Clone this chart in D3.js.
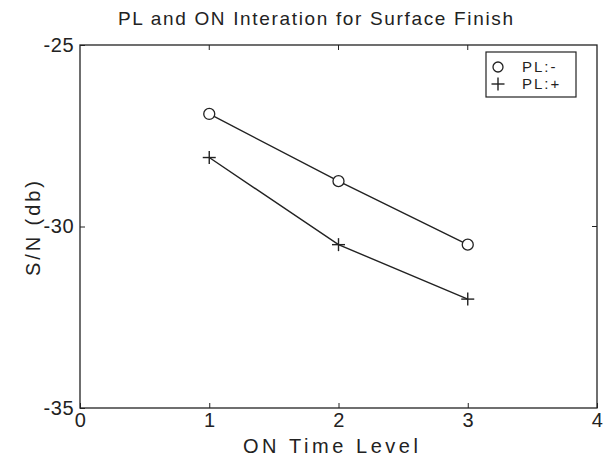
<!DOCTYPE html>
<html>
<head>
<meta charset="utf-8">
<script src="https://cdn.jsdelivr.net/npm/d3@7"></script>
<style>
  body { margin: 0; background: #fff; }
  text { font-family: "Liberation Sans", Arial, sans-serif; fill: #222; }
</style>
</head>
<body>
<div id="chart"></div>
<script>
// data
var levels = [1, 2, 3];
var plMinus = [-26.9, -28.75, -30.5];
var plPlus = [-28.1, -30.5, -32.0];
var seriesNames = ["PL:-", "PL:+"];
var xTicks = [0, 1, 2, 3, 4];
var yTicks = [-35, -30, -25];

var width = 603,
    height = 460,
    margin = {top: 45, right: 6, bottom: 52, left: 80};

var svg = d3.select("#chart")
    .append("svg")
    .attr("width", width)
    .attr("height", height);

var x = d3.scaleLinear()
    .domain([0, 4])
    .range([margin.left, width - margin.right]);

var y = d3.scaleLinear()
    .domain([-35, -25])
    .range([height - margin.bottom, margin.top]);

// plot box
svg.append("rect")
    .attr("x", x(0))
    .attr("y", y(-25))
    .attr("width", x(4) - x(0))
    .attr("height", y(-35) - y(-25))
    .style("fill", "none")
    .style("stroke", "#222")
    .style("stroke-width", 1.3);

// axes (ticks point inward)
var xAxis = d3.axisBottom(x).tickValues(xTicks).tickSize(-5).tickPadding(5).tickFormat(d3.format("d"));
var yAxis = d3.axisLeft(y).tickValues(yTicks).tickSize(-5).tickPadding(6).tickFormat(d => String(d));

var gx = svg.append("g")
    .attr("transform", "translate(0," + y(-35) + ")")
    .call(xAxis);
var gy = svg.append("g")
    .attr("transform", "translate(" + x(0) + ",0)")
    .call(yAxis);

[gx, gy].forEach(function(g) {
    g.select(".domain").remove();
    g.selectAll("line").style("stroke", "#222").style("stroke-width", 1);
    g.selectAll("text")
        .style("font-size", "20px")
        .style("letter-spacing", "0.5px")
        .style("fill", "#222")
        .attr("font-family", null);
});
gx.selectAll("text").attr("dy", "0.71em");

// top/right ticks
svg.append("g").selectAll("line")
    .data(xTicks.slice(1, -1))
    .enter().append("line")
    .attr("x1", d => x(d)).attr("x2", d => x(d))
    .attr("y1", y(-25)).attr("y2", y(-25) + 5)
    .style("stroke", "#222");
svg.append("g").selectAll("line")
    .data([-30])
    .enter().append("line")
    .attr("x1", x(4)).attr("x2", x(4) - 5)
    .attr("y1", d => y(d)).attr("y2", d => y(d))
    .style("stroke", "#222");

// title and labels
svg.append("text")
    .attr("x", 118)
    .attr("y", 25)
    .attr("textLength", 395)
    .attr("lengthAdjust", "spacing")
    .style("font-size", "19px")
    .text("PL and ON Interation for Surface Finish");

svg.append("text")
    .attr("x", 243)
    .attr("y", 453)
    .attr("textLength", 175)
    .attr("lengthAdjust", "spacing")
    .style("font-size", "20px")
    .text("ON Time Level");

svg.append("text")
    .attr("transform", "translate(40,276) rotate(-90)")
    .attr("textLength", 95)
    .attr("lengthAdjust", "spacing")
    .style("font-size", "20px")
    .text("S/N (db)");

// lines
var line = d3.line()
    .x((d, i) => x(levels[i]))
    .y(d => y(d));

[plMinus, plPlus].forEach(function(vals) {
    svg.append("path")
        .attr("d", line(vals))
        .style("fill", "none")
        .style("stroke", "#222")
        .style("stroke-width", 1.4);
});

// markers
svg.append("g").selectAll("circle")
    .data(plMinus)
    .enter().append("circle")
    .attr("cx", (d, i) => x(levels[i]))
    .attr("cy", d => y(d))
    .attr("r", 5.5)
    .style("fill", "#fff")
    .style("stroke", "#222")
    .style("stroke-width", 1.3);

function plus(g, cx, cy, s) {
    g.append("line").attr("x1", cx - s).attr("x2", cx + s).attr("y1", cy).attr("y2", cy)
        .style("stroke", "#222").style("stroke-width", 1.4);
    g.append("line").attr("x1", cx).attr("x2", cx).attr("y1", cy - s).attr("y2", cy + s)
        .style("stroke", "#222").style("stroke-width", 1.4);
}
var gp = svg.append("g");
plPlus.forEach(function(d, i) { plus(gp, x(levels[i]), y(d), 6.5); });

// legend
var lg = svg.append("g").attr("transform", "translate(486,52)");
lg.append("rect")
    .attr("width", 90).attr("height", 45)
    .style("fill", "#fff").style("stroke", "#222").style("stroke-width", 1.2);
lg.append("circle").attr("cx", 12).attr("cy", 15).attr("r", 5)
    .style("fill", "none").style("stroke", "#222").style("stroke-width", 1.3);
plus(lg, 12, 32, 6.5);
lg.selectAll("text.lbl")
    .data(seriesNames)
    .enter().append("text")
    .attr("class", "lbl")
    .attr("x", 36)
    .attr("y", (d, i) => 20 + i * 17)
    .style("font-size", "15px")
    .style("letter-spacing", "2px")
    .text(d => d);
</script>
</body>
</html>
